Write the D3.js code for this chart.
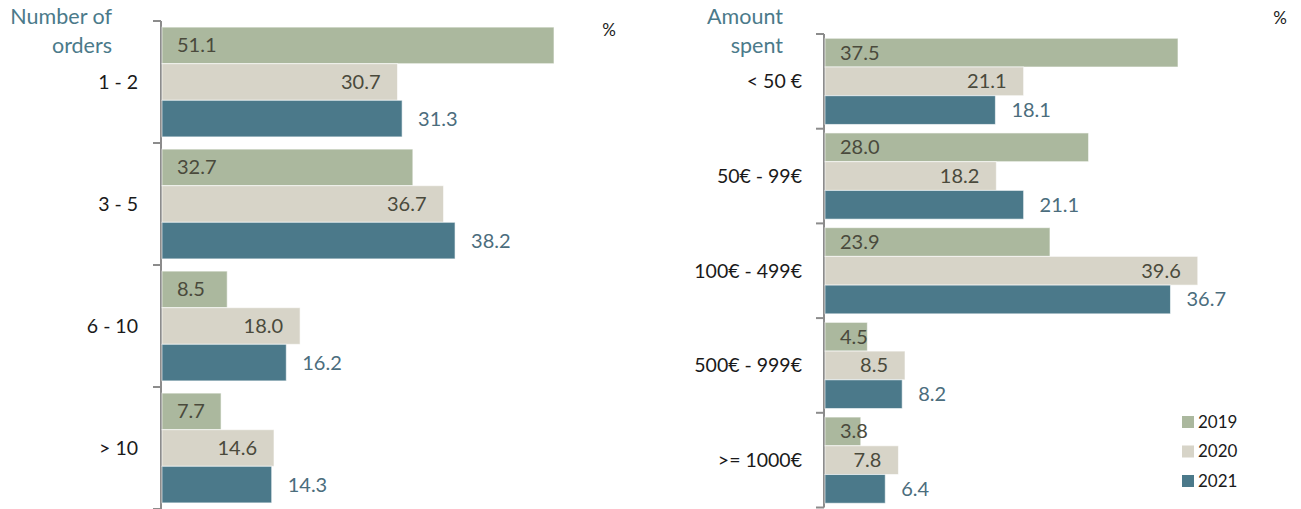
<!DOCTYPE html>
<html>
<head>
<meta charset="utf-8">
<script src="https://cdn.jsdelivr.net/npm/d3@7"></script>
<style>
	body { margin: 0; background: #fff; }
	svg { font-family: Lato, "Open Sans", sans-serif; }
</style>
</head>
<body>
<svg width="1301" height="509"></svg>
<script>
(function(){
	'use strict';

	const years = ['2019', '2020', '2021'];
	const colors = ['#abb89e', '#d7d4c8', '#4b798a'];

	const orderCategories = ['1 - 2', '3 - 5', '6 - 10', '> 10'];
	const orders2019 = [51.1, 32.7, 8.5, 7.7];
	const orders2020 = [30.7, 36.7, 18.0, 14.6];
	const orders2021 = [31.3, 38.2, 16.2, 14.3];

	const amountCategories = ['< 50 €', '50€ - 99€', '100€ - 499€', '500€ - 999€', '>= 1000€'];
	const amount2019 = [37.5, 28.0, 23.9, 4.5, 3.8];
	const amount2020 = [21.1, 18.2, 39.6, 8.5, 7.8];
	const amount2021 = [18.1, 21.1, 36.7, 8.2, 6.4];

	const svg = d3.select('svg');

	function panel(opts) {
		const g = svg.append('g');
		const rows = opts.categories.map((c, i) => ({
			cat: c,
			vals: opts.series.map((s, j) => ({ year: years[j], v: s[i], j }))
		}));

		const y = d3.scaleBand()
			.domain(opts.categories)
			.range([opts.top, opts.bottom]);
		const pad = y.bandwidth() * opts.pad;
		const yInner = d3.scaleBand()
			.domain(years)
			.range([pad, y.bandwidth() - pad]);
		const x = d3.scaleLinear()
			.domain([0, opts.maxVal])
			.range([opts.x0, opts.x1]);

		// axis line with ticks between categories
		const ticks = opts.categories.map(c => y(c)).concat([opts.bottom]);
		g.append('line')
			.attr('x1', opts.x0).attr('x2', opts.x0)
			.attr('y1', opts.top).attr('y2', opts.bottom)
			.attr('stroke', '#8c8c8c').attr('stroke-width', 2);
		g.selectAll('.tk').data(ticks).enter().append('line')
			.attr('x1', opts.x0 - 8).attr('x2', opts.x0)
			.attr('y1', d => d).attr('y2', d => d)
			.attr('stroke', '#8c8c8c').attr('stroke-width', 2);

		const groups = g.selectAll('.grp').data(rows).enter().append('g')
			.attr('transform', d => `translate(0, ${y(d.cat)})`);

		groups.selectAll('rect').data(d => d.vals).enter().append('rect')
			.attr('x', x(0) + 1)
			.attr('y', d => yInner(d.year))
			.attr('width', d => x(d.v) - x(0))
			.attr('height', yInner.bandwidth())
			.attr('fill', d => colors[d.j])
			.attr('stroke', '#fff')
			.attr('stroke-opacity', 0.6)
			.attr('stroke-width', 1);

		groups.selectAll('text.val').data(d => d.vals).enter().append('text')
			.attr('class', 'val')
			.attr('x', d => d.j === 0 ? x(0) + 16 : d.j === 1 ? x(d.v) - 16 : x(d.v) + 17)
			.attr('y', d => yInner(d.year) + yInner.bandwidth() / 2)
			.attr('dy', '0.35em')
			.attr('text-anchor', d => d.j === 1 ? 'end' : 'start')
			.attr('font-size', 20)
			.attr('fill', d => d.j === 2 ? '#4b6d7d' : '#4a4a3c')
			.text(d => d.v.toFixed(1));

		g.selectAll('.cat').data(opts.categories).enter().append('text')
			.attr('x', opts.labelX)
			.attr('y', d => y(d) + y.bandwidth() / 2)
			.attr('dy', '0.35em')
			.attr('text-anchor', 'end')
			.attr('font-size', 19.5)
			.attr('fill', '#1a1a1a')
			.text(d => d);

		const title = g.append('text')
			.attr('text-anchor', 'end')
			.attr('font-size', 21.5)
			.attr('fill', '#4b7a8a');
		opts.title.forEach((t, i) => {
			title.append('tspan')
				.attr('x', opts.titleX)
				.attr('y', 24 + i * 29)
				.text(t);
		});

		g.append('text')
			.attr('x', opts.pctX).attr('y', opts.pctY)
			.attr('text-anchor', 'middle')
			.attr('font-size', 17)
			.attr('fill', '#1a1a1a')
			.text('%');
	}

	panel({
		categories: orderCategories,
		series: [orders2019, orders2020, orders2021],
		top: 21, bottom: 509, pad: 0.05,
		x0: 161, x1: 161 + 392 / 51.1 * 60, maxVal: 60,
		labelX: 138, title: ['Number of', 'orders'], titleX: 112,
		pctX: 609, pctY: 36
	});

	panel({
		categories: amountCategories,
		series: [amount2019, amount2020, amount2021],
		top: 34, bottom: 507.5, pad: 0.045,
		x0: 824, x1: 824 + 353 / 37.5 * 50, maxVal: 50,
		labelX: 802, title: ['Amount', 'spent'], titleX: 783,
		pctX: 1280, pctY: 24
	});

	// legend
	const legend = svg.append('g').attr('transform', 'translate(1182, 416)');
	const li = legend.selectAll('g').data(years).enter().append('g')
		.attr('transform', (d, i) => `translate(0, ${i * 29.5})`);
	li.append('rect')
		.attr('width', 12).attr('height', 12)
		.attr('fill', (d, i) => colors[i]);
	li.append('text')
		.attr('x', 16).attr('y', 6)
		.attr('dy', '0.35em')
		.attr('font-size', 17)
		.attr('fill', '#1a1a1a')
		.text(d => d);
})();
</script>
</body>
</html>
